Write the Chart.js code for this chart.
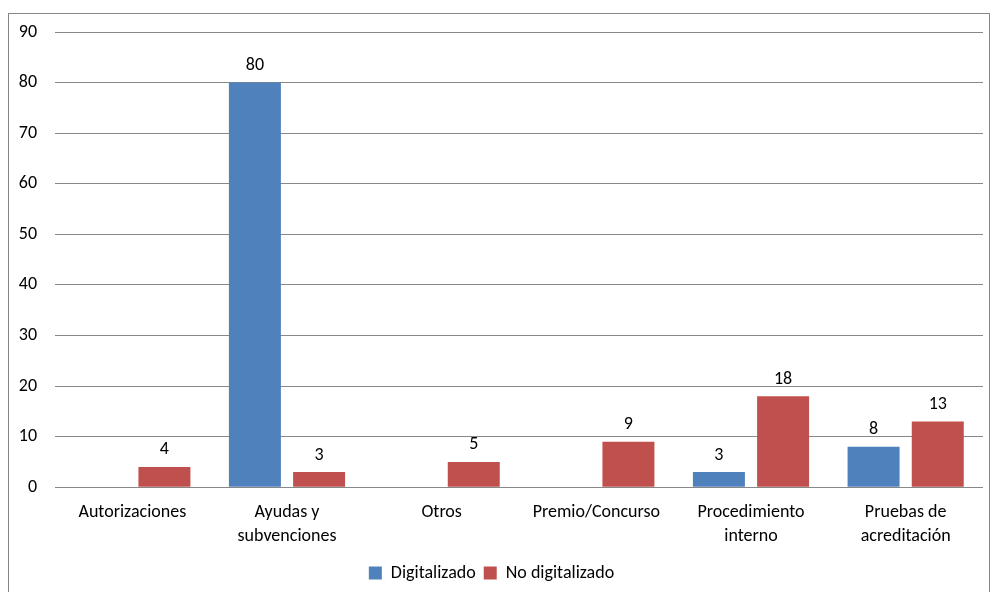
<!DOCTYPE html>
<html lang="es">
<head>
  <meta charset="UTF-8" />
  <title>Digitalizado / No digitalizado</title>
  <script src="https://cdn.jsdelivr.net/npm/chart.js"></script>
  <style>
    html, body { margin: 0; padding: 0; background: #fff; }
    #wrap { width: 992px; height: 592px; position: relative; }
  </style>
</head>
<body>
  <div id="wrap"><canvas id="chart"></canvas></div>

  <script>
    const categories = [
      'Autorizaciones',
      ['Ayudas y', 'subvenciones'],
      'Otros',
      'Premio/Concurso',
      ['Procedimiento', 'interno'],
      ['Pruebas de', 'acreditación']
    ];
    const digitalizado = [null, 80, null, null, 3, 8];
    const noDigitalizado = [4, 3, 5, 9, 18, 13];

    const FONT = 'Carlito, Calibri, Lato, sans-serif';
    const SIZE = 18;

    // borde exterior gris
    const frame = {
      id: 'frame',
      beforeDraw(chart) {
        const ctx = chart.ctx;
        ctx.save();
        ctx.strokeStyle = '#868686';
        ctx.lineWidth = 1;
        ctx.strokeRect(8.5, 13.5, 981, 600);
        ctx.restore();
      }
    };

    // etiquetas de valor encima de cada barra
    const valueLabels = {
      id: 'valueLabels',
      afterDatasetsDraw(chart) {
        const ctx = chart.ctx;
        ctx.save();
        ctx.font = SIZE + 'px ' + FONT;
        ctx.fillStyle = '#000';
        ctx.textAlign = 'center';
        ctx.textBaseline = 'bottom';
        chart.data.datasets.forEach((ds, i) => {
          chart.getDatasetMeta(i).data.forEach((bar, j) => {
            const v = ds.data[j];
            if (v == null) return;
            ctx.fillText(String(v), bar.x, bar.y - 8);
          });
        });
        ctx.restore();
      }
    };

    new Chart(document.getElementById('chart'), {
      type: 'bar',
      data: {
        labels: categories,
        datasets: [
          { label: 'Digitalizado', data: digitalizado, backgroundColor: '#4F81BD',
            categoryPercentage: 0.83, barPercentage: 0.81 },
          { label: 'No digitalizado', data: noDigitalizado, backgroundColor: '#C0504D',
            categoryPercentage: 0.83, barPercentage: 0.81 }
        ]
      },
      options: {
        responsive: true,
        maintainAspectRatio: false,
        animation: false,
        layout: { padding: { top: 32, right: 9, bottom: 0, left: 0 } },
        plugins: {
          tooltip: { enabled: false },
          legend: {
            position: 'bottom',
            labels: {
              font: { family: FONT, size: SIZE },
              color: '#000',
              boxWidth: 13,
              boxHeight: 13,
              padding: 8
            }
          }
        },
        scales: {
          x: {
            afterFit(scale) { scale.height -= 6; },
            grid: { display: false, drawTicks: false },
            border: { display: false },
            ticks: {
              font: { family: FONT, size: SIZE, lineHeight: 1.3 },
              color: '#000',
              maxRotation: 0,
              autoSkip: false,
              padding: 14
            }
          },
          y: {
            min: 0,
            max: 90,
            afterFit(scale) { scale.width = 55; },
            grid: { color: '#888', drawTicks: false },
            border: { display: false },
            ticks: {
              stepSize: 10,
              font: { family: FONT, size: SIZE },
              color: '#000',
              padding: 18
            }
          }
        }
      },
      plugins: [frame, valueLabels]
    });
  </script>
</body>
</html>
